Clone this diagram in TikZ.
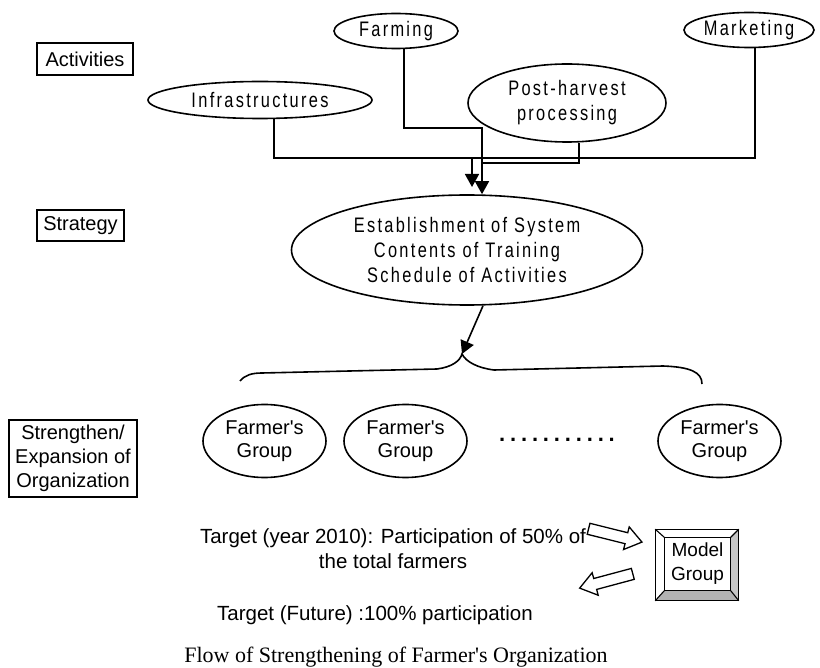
\documentclass[tikz,border=0pt]{standalone}
\usepackage{fontspec}
\setmainfont{Liberation Sans}
\newfontfamily\narrowsans{Liberation Sans}[FakeStretch=0.78,LetterSpace=11]
\newfontfamily\dotsans{Liberation Sans Bold}[LetterSpace=22]
\newfontfamily\captionserif{Liberation Serif}
\usetikzlibrary{shapes.geometric,shapes.arrows,arrows.meta}
\newcommand{\apos}{\textquotesingle}

\begin{document}
\begin{tikzpicture}[x=1pt,y=-1pt,
  line width=1.6pt,
  labelbox/.style={draw,inner sep=0pt,align=center,font=\fontsize{20}{24}\selectfont},
  activity/.style={draw,ellipse,inner sep=0pt,align=center,font=\narrowsans\fontsize{21}{25}\selectfont},
  fgroup/.style={draw,ellipse,minimum width=123pt,minimum height=73pt,inner sep=0pt,align=center,font=\fontsize{20}{23}\selectfont},
  tip/.style={-{Triangle[length=13pt,width=14pt]}},
  hollow/.style={draw,single arrow,fill=white,line width=1.3pt,inner xsep=0pt,inner ysep=5pt,
    single arrow head extend=6pt,single arrow tip angle=72,minimum height=55pt},
  plain/.style={inner sep=0pt,align=center}
]
\useasboundingbox (0,0) rectangle (820,668);

% row labels
\node[labelbox,minimum width=96pt,minimum height=32pt] (lact) at (85,59) {Activities};
\node[labelbox,minimum width=87pt,minimum height=31pt] (lstr) at (80.5,225.5) {Strategy};
\node[labelbox,minimum width=128pt,minimum height=77pt] (lorg) at (73,458.5) {Strengthen/\\Expansion of\\Organization};

% activities
\node[activity,minimum width=124pt,minimum height=35pt] (farm) at (396,31) {Farming};
\node[activity,minimum width=130pt,minimum height=35pt] (mkt) at (749,30) {Marketing};
\node[activity,minimum width=224pt,minimum height=37pt] (infra) at (260,100) {Infrastructures};
\node[activity,minimum width=198pt,minimum height=78pt] (post) at (567,103) {Post-harvest\\processing};

% strategy
\node[activity,minimum width=351pt,minimum height=110pt] (strat) at (467,250)
  {Establishment of System\\Contents of Training\\Schedule of Activities};

% connectors from activities to strategy
\coordinate (busE) at (755,158);
\coordinate (busM) at (472,158);
\coordinate (leftTip) at (472,187);
\coordinate (fbend) at (482,128);
\coordinate (pjoin) at (482,163);
\draw ([xshift=14pt]infra.south) |- (busE) -- ([xshift=6pt]mkt.south);
\draw[tip] (busM) -- (leftTip);
\draw[tip] ([xshift=8pt]farm.south) |- (fbend) -- ([xshift=15pt]strat.north);
\draw ([xshift=12pt]post.south) |- (pjoin);

% strategy to groups, with brace
\coordinate (braceTip) at (462,354);
\draw[tip] ([xshift=16pt]strat.south) -- (braceTip);
\draw (240,381) .. controls (245,375) and (252,373) .. (262,373) -- (437,369)
  .. controls (452,367) and (460,361) .. (braceTip)
  .. controls (466,362) and (478,368) .. (494,370) -- (663,366)
  .. controls (690,367) and (702,372) .. (702,384);

% farmer's groups
\node[fgroup] (g1) at (264.5,441) {Farmer\apos s\\Group};
\node[fgroup] (g2) at (405.5,441) {Farmer\apos s\\Group};
\node[plain,font=\dotsans\fontsize{22}{24}\selectfont] (gdots) at (557,440) {...........};
\node[fgroup] (g3) at (719.5,441) {Farmer\apos s\\Group};

% targets
\node[plain,font=\fontsize{20.5}{25}\selectfont] (t1) at (393,549)
  {Target (year 2010): Participation of 50\% of\\the total farmers};
\node[plain,font=\fontsize{20.5}{25}\selectfont] (t2) at (375,615) {Target (Future) :100\% participation};

% model group button
\node[minimum width=82pt,minimum height=70pt,inner sep=0pt] (model) at (697,565) {};
\node[minimum width=65pt,minimum height=52pt,inner sep=0pt,align=center,
  font=\fontsize{19}{24}\selectfont] (modelin) at (697.5,564) {Model\\Group};
\fill[gray!60] (model.south west) -- (modelin.south west) -- (modelin.south east) -- (model.south east) -- cycle;
\fill[gray!45] (model.south east) -- (modelin.south east) -- (modelin.north east) -- (model.north east) -- cycle;
\draw[line width=1.3pt] (model.north west) rectangle (model.south east);
\draw[line width=1.3pt] (modelin.north west) rectangle (modelin.south east);
\draw[line width=1.1pt] (model.north west) -- (modelin.north west)
  (model.north east) -- (modelin.north east)
  (model.south west) -- (modelin.south west)
  (model.south east) -- (modelin.south east);

% hollow arrows
\node[hollow,rotate=-14] (a1) at (611.5,534.5) {};
\node[hollow,rotate=195] (a2) at (610,580) {};

% caption
\node[plain,font=\captionserif\fontsize{22}{26}\selectfont] (cap) at (396,657)
  {Flow of Strengthening of Farmer\apos s Organization};
\end{tikzpicture}
\end{document}
